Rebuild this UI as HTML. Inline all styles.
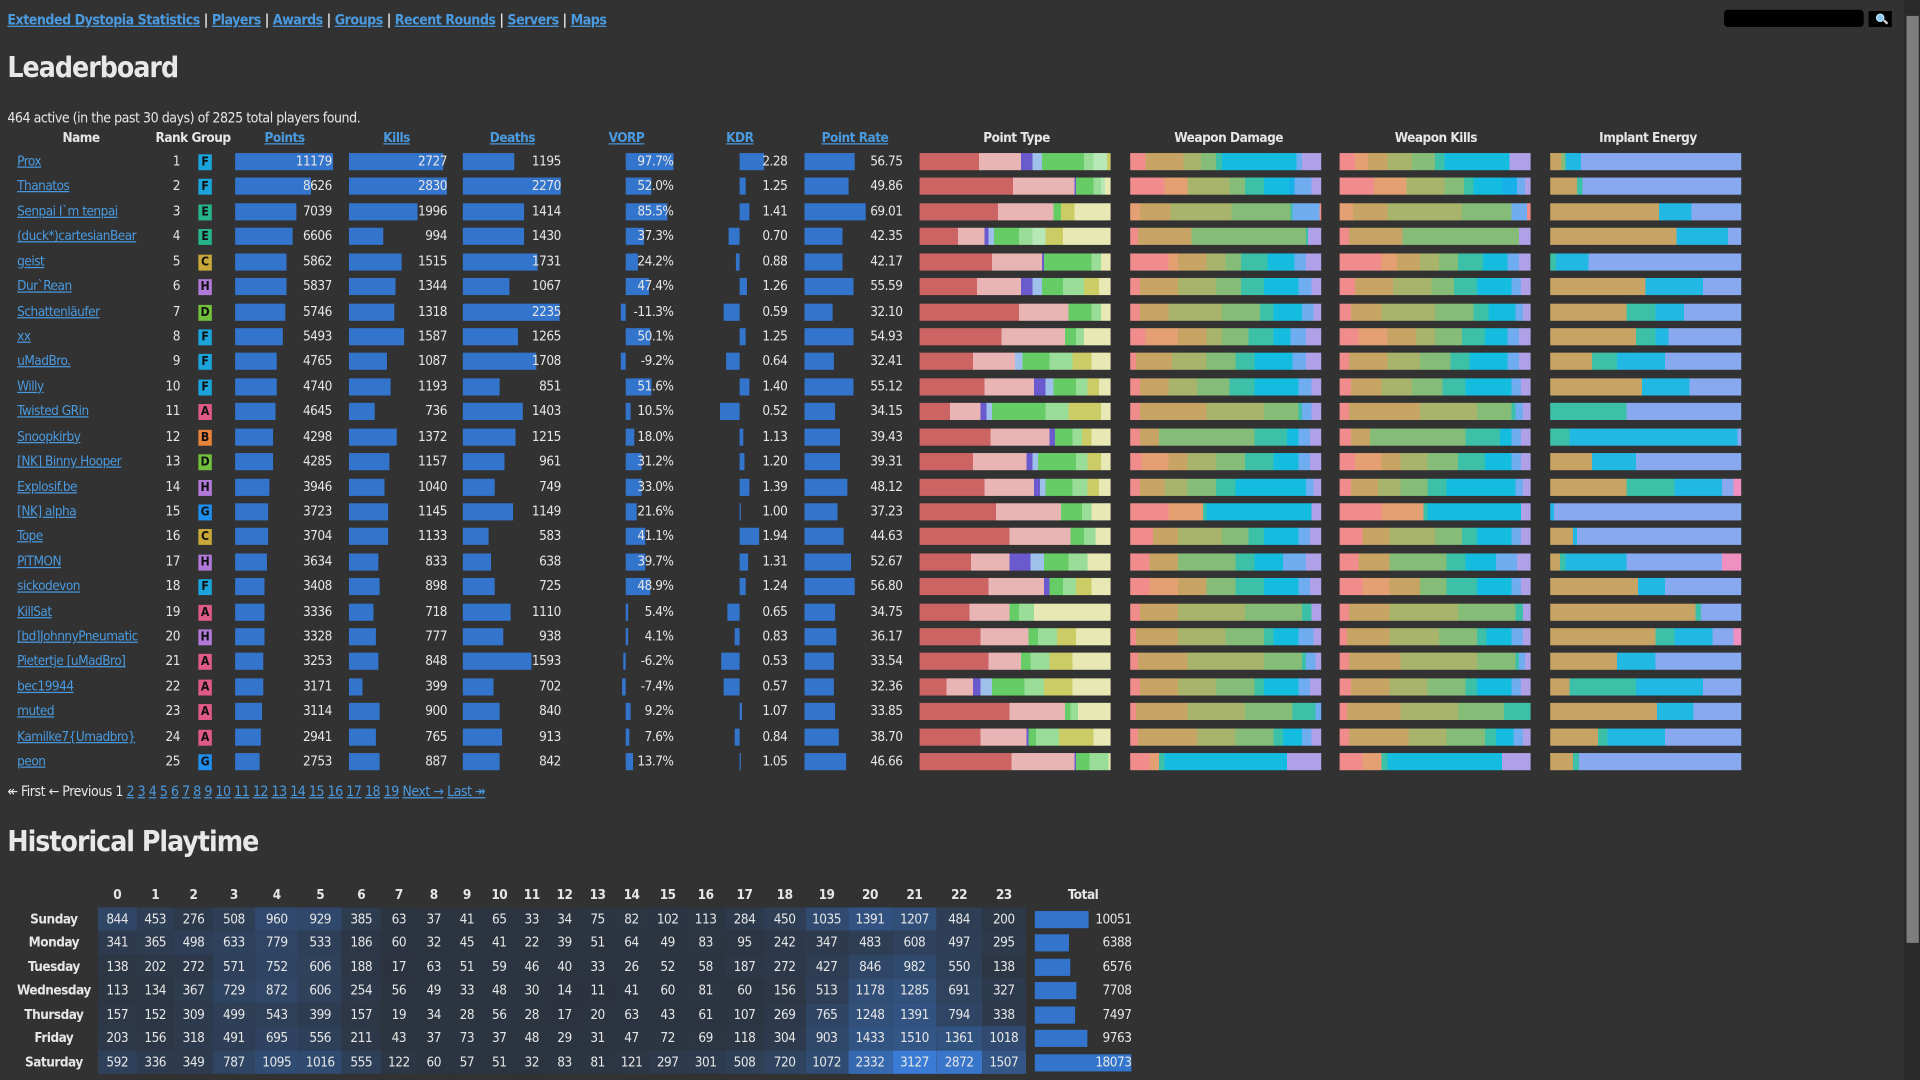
<!DOCTYPE html>
<html><head><meta charset="utf-8">
<style>
html,body{margin:0;padding:0;width:1920px;height:1080px;overflow:hidden;background:#323232}
#w{position:absolute;left:0;top:0;width:1568px;height:882px;transform:scale(1.22449);transform-origin:0 0;font-family:"DejaVu Sans Condensed","Liberation Sans Narrow","Liberation Sans",sans-serif;font-size:11px;color:#e6e6e6;letter-spacing:-0.4px;
--a:#cd6464;--b:#e8b4b4;--c:#6a5acd;--d:#9fc0ea;--e:#66cc66;--f:#99dd99;--y:#cccc66;--p:#e8e8b4;
--w1:#f08c8c;--w2:#e4a072;--w3:#c8a464;--w4:#a8b46c;--w5:#84bc78;--w6:#3cc0a8;--w7:#14bce0;--w8:#70acf0;--w9:#b0a0e8;--ic:#22b8e4;--ip:#88a8f0;--ik:#f090c0}
a{color:#4a9ae0;text-decoration:underline}
.abs{position:absolute}
.nav{left:6px;top:9px;font-weight:bold;font-size:11.5px;white-space:nowrap}
h1{position:absolute;margin:0;font-size:23px;font-weight:bold;letter-spacing:-0.8px;color:#e8e8e8}
.hd{position:absolute;top:106px;font-weight:bold;white-space:nowrap;line-height:14px}
.r{position:absolute;left:0;width:1568px;height:14px;line-height:14px}
.r>*{position:absolute;top:0;font-style:normal;white-space:nowrap}
.n{left:14px}
.k{left:117px;width:30px;text-align:right}
.g{left:162px;width:11px;height:13px;top:1px!important;color:#111;font-weight:bold;text-align:center;line-height:13px;font-size:10px;letter-spacing:0}
.F{background:#1ba4dc}.E{background:#27b48c}.C{background:#c9a83a}.H{background:#b27ad8}.D{background:#72c03c}.A{background:#e05a88}.B{background:#e8833a}.G{background:#1e8ef0}
.b{height:14px;background:#3374cc}
.t{text-align:right}
.p{left:200px;width:71px}.kl{left:300px;width:65px}.dd{left:400px;width:58px}.v{left:505px;width:45px}.kd{left:605px;width:38px}.pr{left:680px;width:57px}
.s{height:14px;width:156px}
.s1{left:751px}.s2{left:923px}.s3{left:1094px}.s4{left:1266px}
table{position:absolute;left:8px;top:721px;border-collapse:collapse;table-layout:fixed;font-size:11px}
td,th{padding:0;text-align:center;height:19.5px;line-height:19.5px;white-space:nowrap;overflow:hidden}
th{font-weight:bold}
td.h{background:linear-gradient(rgba(58,123,213,calc(var(--v) / 3127)),rgba(58,123,213,calc(var(--v) / 3127))),#2c333e}
td.tot{text-align:right;position:relative}
td.tot i{position:absolute;left:0;top:3px;height:14px;background:#3374cc}
td.tot span{position:relative}
</style></head><body>
<div id="w">
<div class="abs nav"><a>Extended Dystopia Statistics</a> | <a>Players</a> | <a>Awards</a> | <a>Groups</a> | <a>Recent Rounds</a> | <a>Servers</a> | <a>Maps</a></div>
<div class="abs" style="left:1408px;top:8px;width:114px;height:14px;background:#000;border-radius:3px"></div>
<div class="abs" style="left:1526px;top:9px;width:19px;height:13px;background:#000"><div class="abs" style="left:6px;top:2px;width:5px;height:5px;border:1.5px solid #bfe4ff;border-radius:50%;background:#8cc8f0"></div><div class="abs" style="left:12px;top:8px;width:4px;height:2px;background:#d0d0d0;transform:rotate(45deg)"></div></div>
<div class="abs" style="left:1555px;top:0;width:13px;height:882px;background:#2a2a2a"></div>
<div class="abs" style="left:1557px;top:13px;width:10px;height:757px;background:#7e7e7e"></div>
<h1 style="left:6px;top:43px">Leaderboard</h1>
<div class="abs" style="left:6px;top:89px;font-size:11.5px">464 active (in the past 30 days) of 2825 total players found.</div>

<div class="hd" style="left:51px">Name</div>
<div class="hd" style="left:127px">Rank Group</div>
<div class="hd" style="left:216px"><a>Points</a></div>
<div class="hd" style="left:313px"><a>Kills</a></div>
<div class="hd" style="left:400px"><a>Deaths</a></div>
<div class="hd" style="left:497px"><a>VORP</a></div>
<div class="hd" style="left:593px"><a>KDR</a></div>
<div class="hd" style="left:671px"><a>Point Rate</a></div>
<div class="hd" style="left:803px">Point Type</div>
<div class="hd" style="left:959px">Weapon Damage</div>
<div class="hd" style="left:1139px">Weapon Kills</div>
<div class="hd" style="left:1306px">Implant Energy</div>

<div class="r" style="top:125px"><a class="n">Prox</a><i class="k">1</i><i class="g F">F</i><i class="b" style="left:192px;width:80px"></i><i class="t p">11179</i><i class="b" style="left:285px;width:77.1px"></i><i class="t kl">2727</i><i class="b" style="left:378px;width:42.1px"></i><i class="t dd">1195</i><i class="b" style="left:511px;width:39.1px"></i><i class="t v">97.7%</i><i class="b" style="left:604px;width:19.8px"></i><i class="t kd">2.28</i><i class="b" style="left:657px;width:41.1px"></i><i class="t pr">56.75</i>
<i class="s s1" style="background:linear-gradient(90deg,var(--a) 0 31%,var(--b) 0 53%,var(--c) 0 59%,var(--d) 0 64%,var(--e) 0 86%,var(--f) 0 91%,#b8e8b8 0 98%,var(--y) 0)"></i>
<i class="s s2" style="background:linear-gradient(90deg,var(--w1) 0 8%,var(--w3) 0 28%,var(--w4) 0 37%,var(--w5) 0 45%,var(--w6) 0 48%,var(--w7) 0 87%,var(--w8) 0 90%,var(--w9) 0)"></i>
<i class="s s3" style="background:linear-gradient(90deg,var(--w1) 0 8%,var(--w2) 0 15%,var(--w3) 0 25%,var(--w4) 0 38%,var(--w5) 0 50%,var(--w6) 0 55%,var(--w7) 0 89%,var(--w9) 0)"></i>
<i class="s s4" style="background:linear-gradient(90deg,var(--w3) 0 6%,var(--w5) 0 8%,var(--ic) 0 16%,var(--ip) 0)"></i></div>

<div class="r" style="top:145.4px"><a class="n">Thanatos</a><i class="k">2</i><i class="g F">F</i><i class="b" style="left:192px;width:61.7px"></i><i class="t p">8626</i><i class="b" style="left:285px;width:80px"></i><i class="t kl">2830</i><i class="b" style="left:378px;width:80px"></i><i class="t dd">2270</i><i class="b" style="left:511px;width:20.8px"></i><i class="t v">52.0%</i><i class="b" style="left:604px;width:5.4px"></i><i class="t kd">1.25</i><i class="b" style="left:657px;width:36.1px"></i><i class="t pr">49.86</i>
<i class="s s1" style="background:linear-gradient(90deg,var(--a) 0 49%,var(--b) 0 81%,var(--c) 0 82%,var(--e) 0 91%,var(--f) 0 95%,#b8e8b8 0 97%,var(--p) 0)"></i>
<i class="s s2" style="background:linear-gradient(90deg,var(--w1) 0 18%,var(--w2) 0 30%,var(--w4) 0 52%,var(--w5) 0 60%,var(--w6) 0 70%,var(--w7) 0 83%,#18b0e8 0 86%,var(--w8) 0 95%,var(--w9) 0)"></i>
<i class="s s3" style="background:linear-gradient(90deg,var(--w1) 0 18%,var(--w2) 0 35%,var(--w4) 0 55%,var(--w5) 0 65%,var(--w6) 0 70%,var(--w7) 0 85%,#18b0e8 0 93%,var(--w8) 0 97%,var(--w9) 0)"></i>
<i class="s s4" style="background:linear-gradient(90deg,var(--w3) 0 14%,var(--w6) 0 17%,var(--ip) 0)"></i></div>

<div class="r" style="top:165.8px"><a class="n">Senpai I`m tenpai</a><i class="k">3</i><i class="g E">E</i><i class="b" style="left:192px;width:50.4px"></i><i class="t p">7039</i><i class="b" style="left:285px;width:56.4px"></i><i class="t kl">1996</i><i class="b" style="left:378px;width:49.8px"></i><i class="t dd">1414</i><i class="b" style="left:511px;width:34.2px"></i><i class="t v">85.5%</i><i class="b" style="left:604px;width:8.2px"></i><i class="t kd">1.41</i><i class="b" style="left:657px;width:50px"></i><i class="t pr">69.01</i>
<i class="s s1" style="background:linear-gradient(90deg,var(--a) 0 41%,var(--b) 0 70%,var(--e) 0 74%,var(--y) 0 81%,var(--p) 0)"></i>
<i class="s s2" style="background:linear-gradient(90deg,var(--w2) 0 5%,var(--w3) 0 21%,var(--w4) 0 53%,var(--w5) 0 84%,var(--w6) 0 85%,var(--w8) 0 99%,var(--w1) 0)"></i>
<i class="s s3" style="background:linear-gradient(90deg,var(--w2) 0 7%,var(--w3) 0 25%,var(--w4) 0 64%,var(--w5) 0 90%,var(--w8) 0 98%,var(--w1) 0)"></i>
<i class="s s4" style="background:linear-gradient(90deg,var(--w3) 0 57%,var(--ic) 0 74%,var(--ip) 0)"></i></div>

<div class="r" style="top:186.3px"><a class="n">(duck*)cartesianBear</a><i class="k">4</i><i class="g E">E</i><i class="b" style="left:192px;width:47.3px"></i><i class="t p">6606</i><i class="b" style="left:285px;width:28.1px"></i><i class="t kl">994</i><i class="b" style="left:378px;width:50.4px"></i><i class="t dd">1430</i><i class="b" style="left:511px;width:14.9px"></i><i class="t v">37.3%</i><i class="b" style="left:595.4px;width:8.6px"></i><i class="t kd">0.70</i><i class="b" style="left:657px;width:30.7px"></i><i class="t pr">42.35</i>
<i class="s s1" style="background:linear-gradient(90deg,var(--a) 0 20%,var(--b) 0 34%,var(--c) 0 36%,var(--d) 0 39%,var(--e) 0 52%,var(--f) 0 59%,#b8e8b8 0 66%,var(--y) 0 75%,var(--p) 0)"></i>
<i class="s s2" style="background:linear-gradient(90deg,var(--w1) 0 4%,var(--w3) 0 32%,var(--w5) 0 92%,var(--w6) 0 93%,var(--w9) 0)"></i>
<i class="s s3" style="background:linear-gradient(90deg,var(--w1) 0 5%,var(--w3) 0 33%,var(--w5) 0 94%,var(--w9) 0)"></i>
<i class="s s4" style="background:linear-gradient(90deg,var(--w3) 0 66%,var(--ic) 0 93%,var(--ip) 0)"></i></div>

<div class="r" style="top:206.7px"><a class="n">geist</a><i class="k">5</i><i class="g C">C</i><i class="b" style="left:192px;width:41.9px"></i><i class="t p">5862</i><i class="b" style="left:285px;width:42.8px"></i><i class="t kl">1515</i><i class="b" style="left:378px;width:61px"></i><i class="t dd">1731</i><i class="b" style="left:511px;width:9.7px"></i><i class="t v">24.2%</i><i class="b" style="left:600.9px;width:3.1px"></i><i class="t kd">0.88</i><i class="b" style="left:657px;width:30.6px"></i><i class="t pr">42.17</i>
<i class="s s1" style="background:linear-gradient(90deg,var(--a) 0 38%,var(--b) 0 64%,var(--c) 0 65%,var(--e) 0 90%,var(--f) 0 95%,var(--p) 0)"></i>
<i class="s s2" style="background:linear-gradient(90deg,var(--w1) 0 20%,var(--w2) 0 25%,var(--w3) 0 40%,var(--w4) 0 50%,var(--w5) 0 58%,var(--w6) 0 72%,var(--w7) 0 86%,var(--w8) 0 92%,var(--w9) 0)"></i>
<i class="s s3" style="background:linear-gradient(90deg,var(--w1) 0 22%,var(--w2) 0 30%,var(--w3) 0 42%,var(--w4) 0 52%,var(--w5) 0 62%,var(--w6) 0 75%,var(--w7) 0 88%,var(--w8) 0 94%,var(--w9) 0)"></i>
<i class="s s4" style="background:linear-gradient(90deg,var(--w6) 0 3%,var(--ic) 0 20%,var(--ip) 0)"></i></div>

<div class="r" style="top:227.1px"><a class="n">Dur`Rean</a><i class="k">6</i><i class="g H">H</i><i class="b" style="left:192px;width:41.8px"></i><i class="t p">5837</i><i class="b" style="left:285px;width:38px"></i><i class="t kl">1344</i><i class="b" style="left:378px;width:37.6px"></i><i class="t dd">1067</i><i class="b" style="left:511px;width:19px"></i><i class="t v">47.4%</i><i class="b" style="left:604px;width:5.5px"></i><i class="t kd">1.26</i><i class="b" style="left:657px;width:40.3px"></i><i class="t pr">55.59</i>
<i class="s s1" style="background:linear-gradient(90deg,var(--a) 0 30%,var(--b) 0 53%,var(--c) 0 59%,var(--d) 0 64%,var(--e) 0 75%,var(--f) 0 86%,var(--y) 0 94%,var(--p) 0)"></i>
<i class="s s2" style="background:linear-gradient(90deg,var(--w1) 0 5%,var(--w3) 0 25%,var(--w4) 0 45%,var(--w5) 0 58%,var(--w6) 0 70%,var(--w7) 0 88%,var(--w8) 0 95%,var(--w9) 0)"></i>
<i class="s s3" style="background:linear-gradient(90deg,var(--w1) 0 8%,var(--w3) 0 28%,var(--w4) 0 48%,var(--w5) 0 60%,var(--w6) 0 72%,var(--w7) 0 90%,var(--w8) 0 95%,var(--w9) 0)"></i>
<i class="s s4" style="background:linear-gradient(90deg,var(--w3) 0 50%,var(--ic) 0 80%,var(--ip) 0)"></i></div>

<div class="r" style="top:247.5px"><a class="n">Schattenläufer</a><i class="k">7</i><i class="g D">D</i><i class="b" style="left:192px;width:41.1px"></i><i class="t p">5746</i><i class="b" style="left:285px;width:37.3px"></i><i class="t kl">1318</i><i class="b" style="left:378px;width:78.8px"></i><i class="t dd">2235</i><i class="b" style="left:506.5px;width:4.5px"></i><i class="t v">-11.3%</i><i class="b" style="left:591.3px;width:12.7px"></i><i class="t kd">0.59</i><i class="b" style="left:657px;width:23.3px"></i><i class="t pr">32.10</i>
<i class="s s1" style="background:linear-gradient(90deg,var(--a) 0 52%,var(--b) 0 78%,var(--e) 0 90%,var(--f) 0 95%,var(--p) 0)"></i>
<i class="s s2" style="background:linear-gradient(90deg,var(--w1) 0 5%,var(--w3) 0 20%,var(--w4) 0 48%,var(--w5) 0 68%,var(--w6) 0 75%,var(--w7) 0 90%,var(--w8) 0 96%,var(--w9) 0)"></i>
<i class="s s3" style="background:linear-gradient(90deg,var(--w1) 0 6%,var(--w3) 0 22%,var(--w4) 0 50%,var(--w5) 0 70%,var(--w6) 0 78%,var(--w7) 0 92%,var(--w8) 0 96%,var(--w9) 0)"></i>
<i class="s s4" style="background:linear-gradient(90deg,var(--w3) 0 40%,var(--w6) 0 55%,var(--ic) 0 70%,var(--ip) 0)"></i></div>

<div class="r" style="top:267.9px"><a class="n">xx</a><i class="k">8</i><i class="g F">F</i><i class="b" style="left:192px;width:39.3px"></i><i class="t p">5493</i><i class="b" style="left:285px;width:44.9px"></i><i class="t kl">1587</i><i class="b" style="left:378px;width:44.6px"></i><i class="t dd">1265</i><i class="b" style="left:511px;width:20px"></i><i class="t v">50.1%</i><i class="b" style="left:604px;width:5.4px"></i><i class="t kd">1.25</i><i class="b" style="left:657px;width:39.8px"></i><i class="t pr">54.93</i>
<i class="s s1" style="background:linear-gradient(90deg,var(--a) 0 43%,var(--b) 0 76%,var(--e) 0 82%,var(--f) 0 86%,var(--p) 0)"></i>
<i class="s s2" style="background:linear-gradient(90deg,var(--w1) 0 8%,var(--w2) 0 25%,var(--w3) 0 40%,var(--w4) 0 48%,var(--w5) 0 62%,var(--w6) 0 75%,var(--w7) 0 84%,var(--w8) 0 92%,var(--w9) 0)"></i>
<i class="s s3" style="background:linear-gradient(90deg,var(--w1) 0 10%,var(--w2) 0 25%,var(--w3) 0 40%,var(--w4) 0 50%,var(--w5) 0 64%,var(--w6) 0 76%,var(--w7) 0 88%,var(--w8) 0 94%,var(--w9) 0)"></i>
<i class="s s4" style="background:linear-gradient(90deg,var(--w3) 0 45%,var(--w6) 0 55%,var(--ic) 0 62%,var(--ip) 0)"></i></div>

<div class="r" style="top:288.4px"><a class="n">uMadBro.</a><i class="k">9</i><i class="g F">F</i><i class="b" style="left:192px;width:34.1px"></i><i class="t p">4765</i><i class="b" style="left:285px;width:30.7px"></i><i class="t kl">1087</i><i class="b" style="left:378px;width:60.2px"></i><i class="t dd">1708</i><i class="b" style="left:507.3px;width:3.7px"></i><i class="t v">-9.2%</i><i class="b" style="left:593.3px;width:10.7px"></i><i class="t kd">0.64</i><i class="b" style="left:657px;width:23.5px"></i><i class="t pr">32.41</i>
<i class="s s1" style="background:linear-gradient(90deg,var(--a) 0 28%,var(--b) 0 50%,var(--d) 0 54%,var(--e) 0 68%,var(--f) 0 80%,var(--y) 0 90%,var(--p) 0)"></i>
<i class="s s2" style="background:linear-gradient(90deg,var(--w1) 0 3%,var(--w3) 0 22%,var(--w4) 0 40%,var(--w5) 0 55%,var(--w6) 0 65%,var(--w7) 0 85%,var(--w8) 0 92%,var(--w9) 0)"></i>
<i class="s s3" style="background:linear-gradient(90deg,var(--w1) 0 5%,var(--w3) 0 25%,var(--w4) 0 42%,var(--w5) 0 58%,var(--w6) 0 68%,var(--w7) 0 88%,var(--w8) 0 94%,var(--w9) 0)"></i>
<i class="s s4" style="background:linear-gradient(90deg,var(--w3) 0 22%,var(--w6) 0 35%,var(--ic) 0 60%,var(--ip) 0)"></i></div>

<div class="r" style="top:308.8px"><a class="n">Willy</a><i class="k">10</i><i class="g F">F</i><i class="b" style="left:192px;width:33.9px"></i><i class="t p">4740</i><i class="b" style="left:285px;width:33.7px"></i><i class="t kl">1193</i><i class="b" style="left:378px;width:30px"></i><i class="t dd">851</i><i class="b" style="left:511px;width:20.6px"></i><i class="t v">51.6%</i><i class="b" style="left:604px;width:8.1px"></i><i class="t kd">1.40</i><i class="b" style="left:657px;width:40px"></i><i class="t pr">55.12</i>
<i class="s s1" style="background:linear-gradient(90deg,var(--a) 0 34%,var(--b) 0 60%,var(--c) 0 66%,var(--d) 0 70%,var(--e) 0 82%,var(--f) 0 88%,var(--y) 0 94%,var(--p) 0)"></i>
<i class="s s2" style="background:linear-gradient(90deg,var(--w1) 0 5%,var(--w3) 0 20%,var(--w4) 0 35%,var(--w5) 0 52%,var(--w6) 0 65%,var(--w7) 0 88%,var(--w8) 0 95%,var(--w9) 0)"></i>
<i class="s s3" style="background:linear-gradient(90deg,var(--w1) 0 6%,var(--w3) 0 22%,var(--w4) 0 38%,var(--w5) 0 54%,var(--w6) 0 66%,var(--w7) 0 90%,var(--w8) 0 95%,var(--w9) 0)"></i>
<i class="s s4" style="background:linear-gradient(90deg,var(--w3) 0 48%,var(--ic) 0 73%,var(--ip) 0)"></i></div>

<div class="r" style="top:329.2px"><a class="n">Twisted GRin</a><i class="k">11</i><i class="g A">A</i><i class="b" style="left:192px;width:33.2px"></i><i class="t p">4645</i><i class="b" style="left:285px;width:20.8px"></i><i class="t kl">736</i><i class="b" style="left:378px;width:49.4px"></i><i class="t dd">1403</i><i class="b" style="left:511px;width:4.2px"></i><i class="t v">10.5%</i><i class="b" style="left:588.3px;width:15.7px"></i><i class="t kd">0.52</i><i class="b" style="left:657px;width:24.8px"></i><i class="t pr">34.15</i>
<i class="s s1" style="background:linear-gradient(90deg,var(--a) 0 16%,var(--b) 0 32%,var(--c) 0 35%,var(--d) 0 38%,var(--e) 0 66%,var(--f) 0 78%,var(--y) 0 95%,var(--p) 0)"></i>
<i class="s s2" style="background:linear-gradient(90deg,var(--w1) 0 5%,var(--w3) 0 40%,var(--w4) 0 70%,var(--w5) 0 88%,var(--w6) 0 90%,var(--w8) 0 95%,var(--w9) 0)"></i>
<i class="s s3" style="background:linear-gradient(90deg,var(--w1) 0 5%,var(--w3) 0 42%,var(--w4) 0 72%,var(--w5) 0 90%,var(--w6) 0 92%,var(--w8) 0 96%,var(--w9) 0)"></i>
<i class="s s4" style="background:linear-gradient(90deg,var(--w6) 0 40%,var(--ip) 0)"></i></div>

<div class="r" style="top:349.6px"><a class="n">Snoopkirby</a><i class="k">12</i><i class="g B">B</i><i class="b" style="left:192px;width:30.8px"></i><i class="t p">4298</i><i class="b" style="left:285px;width:38.8px"></i><i class="t kl">1372</i><i class="b" style="left:378px;width:42.8px"></i><i class="t dd">1215</i><i class="b" style="left:511px;width:7.2px"></i><i class="t v">18.0%</i><i class="b" style="left:604px;width:2.9px"></i><i class="t kd">1.13</i><i class="b" style="left:657px;width:28.6px"></i><i class="t pr">39.43</i>
<i class="s s1" style="background:linear-gradient(90deg,var(--a) 0 37%,var(--b) 0 68%,var(--c) 0 71%,var(--e) 0 80%,var(--f) 0 85%,var(--y) 0 90%,var(--p) 0)"></i>
<i class="s s2" style="background:linear-gradient(90deg,var(--w1) 0 5%,var(--w3) 0 15%,var(--w5) 0 65%,var(--w6) 0 82%,var(--w7) 0 88%,var(--w8) 0 94%,var(--w9) 0)"></i>
<i class="s s3" style="background:linear-gradient(90deg,var(--w1) 0 6%,var(--w3) 0 16%,var(--w5) 0 66%,var(--w6) 0 84%,var(--w7) 0 90%,var(--w8) 0 95%,var(--w9) 0)"></i>
<i class="s s4" style="background:linear-gradient(90deg,var(--w6) 0 10%,var(--ic) 0 98%,var(--ip) 0)"></i></div>

<div class="r" style="top:370px"><a class="n">[NK] Binny Hooper</a><i class="k">13</i><i class="g D">D</i><i class="b" style="left:192px;width:30.7px"></i><i class="t p">4285</i><i class="b" style="left:285px;width:32.7px"></i><i class="t kl">1157</i><i class="b" style="left:378px;width:33.9px"></i><i class="t dd">961</i><i class="b" style="left:511px;width:12.5px"></i><i class="t v">31.2%</i><i class="b" style="left:604px;width:4.4px"></i><i class="t kd">1.20</i><i class="b" style="left:657px;width:28.5px"></i><i class="t pr">39.31</i>
<i class="s s1" style="background:linear-gradient(90deg,var(--a) 0 28%,var(--b) 0 56%,var(--c) 0 59%,var(--d) 0 62%,var(--e) 0 82%,var(--f) 0 88%,var(--y) 0 95%,var(--p) 0)"></i>
<i class="s s2" style="background:linear-gradient(90deg,var(--w1) 0 6%,var(--w2) 0 20%,var(--w3) 0 30%,var(--w4) 0 45%,var(--w5) 0 60%,var(--w6) 0 75%,var(--w7) 0 88%,var(--w8) 0 94%,var(--w9) 0)"></i>
<i class="s s3" style="background:linear-gradient(90deg,var(--w1) 0 8%,var(--w2) 0 22%,var(--w3) 0 32%,var(--w4) 0 46%,var(--w5) 0 62%,var(--w6) 0 76%,var(--w7) 0 90%,var(--w8) 0 95%,var(--w9) 0)"></i>
<i class="s s4" style="background:linear-gradient(90deg,var(--w3) 0 22%,var(--ic) 0 45%,var(--ip) 0)"></i></div>

<div class="r" style="top:390.5px"><a class="n">Explosif.be</a><i class="k">14</i><i class="g H">H</i><i class="b" style="left:192px;width:28.2px"></i><i class="t p">3946</i><i class="b" style="left:285px;width:29.4px"></i><i class="t kl">1040</i><i class="b" style="left:378px;width:26.4px"></i><i class="t dd">749</i><i class="b" style="left:511px;width:13.2px"></i><i class="t v">33.0%</i><i class="b" style="left:604px;width:7.9px"></i><i class="t kd">1.39</i><i class="b" style="left:657px;width:34.9px"></i><i class="t pr">48.12</i>
<i class="s s1" style="background:linear-gradient(90deg,var(--a) 0 34%,var(--b) 0 60%,var(--c) 0 63%,var(--d) 0 66%,var(--e) 0 80%,var(--f) 0 88%,var(--y) 0 94%,var(--p) 0)"></i>
<i class="s s2" style="background:linear-gradient(90deg,var(--w1) 0 5%,var(--w3) 0 18%,var(--w4) 0 30%,var(--w5) 0 45%,var(--w6) 0 55%,var(--w7) 0 92%,var(--w8) 0 96%,var(--w9) 0)"></i>
<i class="s s3" style="background:linear-gradient(90deg,var(--w1) 0 6%,var(--w3) 0 20%,var(--w4) 0 32%,var(--w5) 0 46%,var(--w6) 0 56%,var(--w7) 0 92%,var(--w8) 0 96%,var(--w9) 0)"></i>
<i class="s s4" style="background:linear-gradient(90deg,var(--w3) 0 40%,var(--w6) 0 65%,var(--ic) 0 90%,var(--ip) 0 96%,var(--ik) 0)"></i></div>

<div class="r" style="top:410.9px"><a class="n">[NK] alpha</a><i class="k">15</i><i class="g G">G</i><i class="b" style="left:192px;width:26.6px"></i><i class="t p">3723</i><i class="b" style="left:285px;width:32.4px"></i><i class="t kl">1145</i><i class="b" style="left:378px;width:40.5px"></i><i class="t dd">1149</i><i class="b" style="left:511px;width:8.6px"></i><i class="t v">21.6%</i><i class="b" style="left:604px;width:0.6px"></i><i class="t kd">1.00</i><i class="b" style="left:657px;width:27px"></i><i class="t pr">37.23</i>
<i class="s s1" style="background:linear-gradient(90deg,var(--a) 0 40%,var(--b) 0 74%,var(--e) 0 85%,var(--f) 0 90%,var(--p) 0)"></i>
<i class="s s2" style="background:linear-gradient(90deg,var(--w1) 0 20%,var(--w2) 0 38%,var(--w6) 0 40%,var(--w7) 0 95%,var(--w9) 0)"></i>
<i class="s s3" style="background:linear-gradient(90deg,var(--w1) 0 22%,var(--w2) 0 44%,var(--w6) 0 46%,var(--w7) 0 95%,var(--w9) 0)"></i>
<i class="s s4" style="background:linear-gradient(90deg,var(--ic) 0 2%,var(--ip) 0)"></i></div>

<div class="r" style="top:431.3px"><a class="n">Tope</a><i class="k">16</i><i class="g C">C</i><i class="b" style="left:192px;width:26.5px"></i><i class="t p">3704</i><i class="b" style="left:285px;width:32px"></i><i class="t kl">1133</i><i class="b" style="left:378px;width:20.5px"></i><i class="t dd">583</i><i class="b" style="left:511px;width:16.4px"></i><i class="t v">41.1%</i><i class="b" style="left:604px;width:15.9px"></i><i class="t kd">1.94</i><i class="b" style="left:657px;width:32.4px"></i><i class="t pr">44.63</i>
<i class="s s1" style="background:linear-gradient(90deg,var(--a) 0 47%,var(--b) 0 79%,var(--e) 0 86%,var(--f) 0 92%,var(--p) 0)"></i>
<i class="s s2" style="background:linear-gradient(90deg,var(--w1) 0 12%,var(--w3) 0 25%,var(--w4) 0 48%,var(--w5) 0 62%,var(--w6) 0 70%,var(--w7) 0 88%,var(--w8) 0 94%,var(--w9) 0)"></i>
<i class="s s3" style="background:linear-gradient(90deg,var(--w1) 0 12%,var(--w3) 0 26%,var(--w4) 0 50%,var(--w5) 0 64%,var(--w6) 0 72%,var(--w7) 0 90%,var(--w8) 0 95%,var(--w9) 0)"></i>
<i class="s s4" style="background:linear-gradient(90deg,var(--w3) 0 12%,var(--ic) 0 14%,var(--ip) 0)"></i></div>

<div class="r" style="top:451.7px"><a class="n">PiTMON</a><i class="k">17</i><i class="g H">H</i><i class="b" style="left:192px;width:26px"></i><i class="t p">3634</i><i class="b" style="left:285px;width:23.5px"></i><i class="t kl">833</i><i class="b" style="left:378px;width:22.5px"></i><i class="t dd">638</i><i class="b" style="left:511px;width:15.9px"></i><i class="t v">39.7%</i><i class="b" style="left:604px;width:6.5px"></i><i class="t kd">1.31</i><i class="b" style="left:657px;width:38.2px"></i><i class="t pr">52.67</i>
<i class="s s1" style="background:linear-gradient(90deg,var(--a) 0 27%,var(--b) 0 47%,var(--c) 0 58%,var(--d) 0 65%,var(--e) 0 78%,var(--f) 0 88%,var(--p) 0)"></i>
<i class="s s2" style="background:linear-gradient(90deg,var(--w1) 0 10%,var(--w3) 0 25%,var(--w5) 0 55%,var(--w6) 0 65%,var(--w7) 0 80%,var(--w8) 0 92%,var(--w9) 0)"></i>
<i class="s s3" style="background:linear-gradient(90deg,var(--w1) 0 10%,var(--w3) 0 26%,var(--w5) 0 56%,var(--w6) 0 66%,var(--w7) 0 82%,var(--w8) 0 93%,var(--w9) 0)"></i>
<i class="s s4" style="background:linear-gradient(90deg,var(--w3) 0 5%,var(--w6) 0 8%,var(--ic) 0 40%,var(--ip) 0 90%,var(--ik) 0)"></i></div>

<div class="r" style="top:472.1px"><a class="n">sickodevon</a><i class="k">18</i><i class="g F">F</i><i class="b" style="left:192px;width:24.4px"></i><i class="t p">3408</i><i class="b" style="left:285px;width:25.4px"></i><i class="t kl">898</i><i class="b" style="left:378px;width:25.5px"></i><i class="t dd">725</i><i class="b" style="left:511px;width:19.6px"></i><i class="t v">48.9%</i><i class="b" style="left:604px;width:5.2px"></i><i class="t kd">1.24</i><i class="b" style="left:657px;width:41.2px"></i><i class="t pr">56.80</i>
<i class="s s1" style="background:linear-gradient(90deg,var(--a) 0 36%,var(--b) 0 65%,var(--c) 0 68%,var(--e) 0 75%,var(--f) 0 82%,var(--y) 0 90%,var(--p) 0)"></i>
<i class="s s2" style="background:linear-gradient(90deg,var(--w1) 0 10%,var(--w2) 0 25%,var(--w3) 0 40%,var(--w5) 0 55%,var(--w6) 0 70%,var(--w7) 0 88%,var(--w8) 0 94%,var(--w9) 0)"></i>
<i class="s s3" style="background:linear-gradient(90deg,var(--w1) 0 12%,var(--w2) 0 26%,var(--w3) 0 42%,var(--w5) 0 56%,var(--w6) 0 72%,var(--w7) 0 90%,var(--w8) 0 95%,var(--w9) 0)"></i>
<i class="s s4" style="background:linear-gradient(90deg,var(--w3) 0 46%,var(--ic) 0 60%,var(--ip) 0)"></i></div>

<div class="r" style="top:492.6px"><a class="n">KillSat</a><i class="k">19</i><i class="g A">A</i><i class="b" style="left:192px;width:23.9px"></i><i class="t p">3336</i><i class="b" style="left:285px;width:20.3px"></i><i class="t kl">718</i><i class="b" style="left:378px;width:39.1px"></i><i class="t dd">1110</i><i class="b" style="left:511px;width:2.2px"></i><i class="t v">5.4%</i><i class="b" style="left:593.7px;width:10.3px"></i><i class="t kd">0.65</i><i class="b" style="left:657px;width:25.2px"></i><i class="t pr">34.75</i>
<i class="s s1" style="background:linear-gradient(90deg,var(--a) 0 26%,var(--b) 0 47%,var(--e) 0 52%,var(--f) 0 60%,var(--p) 0)"></i>
<i class="s s2" style="background:linear-gradient(90deg,var(--w1) 0 5%,var(--w3) 0 25%,var(--w4) 0 60%,var(--w5) 0 90%,var(--w6) 0 95%,var(--w9) 0)"></i>
<i class="s s3" style="background:linear-gradient(90deg,var(--w1) 0 5%,var(--w3) 0 26%,var(--w4) 0 62%,var(--w5) 0 92%,var(--w6) 0 96%,var(--w9) 0)"></i>
<i class="s s4" style="background:linear-gradient(90deg,var(--w3) 0 76%,var(--w6) 0 79%,var(--ip) 0)"></i></div>

<div class="r" style="top:513px"><a class="n">[bd]JohnnyPneumatic</a><i class="k">20</i><i class="g H">H</i><i class="b" style="left:192px;width:23.8px"></i><i class="t p">3328</i><i class="b" style="left:285px;width:22px"></i><i class="t kl">777</i><i class="b" style="left:378px;width:33.1px"></i><i class="t dd">938</i><i class="b" style="left:511px;width:1.6px"></i><i class="t v">4.1%</i><i class="b" style="left:599.5px;width:4.5px"></i><i class="t kd">0.83</i><i class="b" style="left:657px;width:26.2px"></i><i class="t pr">36.17</i>
<i class="s s1" style="background:linear-gradient(90deg,var(--a) 0 32%,var(--b) 0 57%,var(--e) 0 62%,var(--f) 0 72%,var(--y) 0 82%,var(--p) 0)"></i>
<i class="s s2" style="background:linear-gradient(90deg,var(--w1) 0 3%,var(--w3) 0 25%,var(--w4) 0 50%,var(--w5) 0 70%,var(--w6) 0 75%,var(--w7) 0 88%,var(--w8) 0 96%,var(--w9) 0)"></i>
<i class="s s3" style="background:linear-gradient(90deg,var(--w1) 0 4%,var(--w3) 0 26%,var(--w4) 0 52%,var(--w5) 0 72%,var(--w6) 0 77%,var(--w7) 0 90%,var(--w8) 0 96%,var(--w9) 0)"></i>
<i class="s s4" style="background:linear-gradient(90deg,var(--w3) 0 55%,var(--w6) 0 65%,var(--ic) 0 85%,var(--ip) 0 96%,var(--ik) 0)"></i></div>

<div class="r" style="top:533.4px"><a class="n">Pietertje [uMadBro]</a><i class="k">21</i><i class="g A">A</i><i class="b" style="left:192px;width:23.3px"></i><i class="t p">3253</i><i class="b" style="left:285px;width:24px"></i><i class="t kl">848</i><i class="b" style="left:378px;width:56.1px"></i><i class="t dd">1593</i><i class="b" style="left:508.5px;width:2.5px"></i><i class="t v">-6.2%</i><i class="b" style="left:588.8px;width:15.2px"></i><i class="t kd">0.53</i><i class="b" style="left:657px;width:24.3px"></i><i class="t pr">33.54</i>
<i class="s s1" style="background:linear-gradient(90deg,var(--a) 0 36%,var(--b) 0 53%,var(--e) 0 58%,var(--f) 0 68%,var(--y) 0 80%,var(--p) 0)"></i>
<i class="s s2" style="background:linear-gradient(90deg,var(--w1) 0 4%,var(--w3) 0 30%,var(--w4) 0 70%,var(--w5) 0 90%,var(--w6) 0 92%,var(--w8) 0 97%,var(--w9) 0)"></i>
<i class="s s3" style="background:linear-gradient(90deg,var(--w1) 0 5%,var(--w3) 0 32%,var(--w4) 0 72%,var(--w5) 0 92%,var(--w6) 0 94%,var(--w8) 0 97%,var(--w9) 0)"></i>
<i class="s s4" style="background:linear-gradient(90deg,var(--w3) 0 35%,var(--ic) 0 55%,var(--ip) 0)"></i></div>

<div class="r" style="top:553.8px"><a class="n">bec19944</a><i class="k">22</i><i class="g A">A</i><i class="b" style="left:192px;width:22.7px"></i><i class="t p">3171</i><i class="b" style="left:285px;width:11.3px"></i><i class="t kl">399</i><i class="b" style="left:378px;width:24.7px"></i><i class="t dd">702</i><i class="b" style="left:508px;width:3px"></i><i class="t v">-7.4%</i><i class="b" style="left:590.5px;width:13.5px"></i><i class="t kd">0.57</i><i class="b" style="left:657px;width:23.5px"></i><i class="t pr">32.36</i>
<i class="s s1" style="background:linear-gradient(90deg,var(--a) 0 14%,var(--b) 0 28%,var(--c) 0 32%,var(--d) 0 38%,var(--e) 0 55%,var(--f) 0 65%,var(--y) 0 80%,var(--p) 0)"></i>
<i class="s s2" style="background:linear-gradient(90deg,var(--w1) 0 5%,var(--w3) 0 25%,var(--w4) 0 45%,var(--w5) 0 65%,var(--w6) 0 70%,var(--w7) 0 88%,var(--w8) 0 94%,var(--w9) 0)"></i>
<i class="s s3" style="background:linear-gradient(90deg,var(--w1) 0 6%,var(--w3) 0 26%,var(--w4) 0 46%,var(--w5) 0 66%,var(--w6) 0 72%,var(--w7) 0 90%,var(--w8) 0 95%,var(--w9) 0)"></i>
<i class="s s4" style="background:linear-gradient(90deg,var(--w3) 0 10%,var(--w6) 0 45%,var(--ic) 0 80%,var(--ip) 0)"></i></div>

<div class="r" style="top:574.2px"><a class="n">muted</a><i class="k">23</i><i class="g A">A</i><i class="b" style="left:192px;width:22.3px"></i><i class="t p">3114</i><i class="b" style="left:285px;width:25.4px"></i><i class="t kl">900</i><i class="b" style="left:378px;width:29.6px"></i><i class="t dd">840</i><i class="b" style="left:511px;width:3.7px"></i><i class="t v">9.2%</i><i class="b" style="left:604px;width:1.6px"></i><i class="t kd">1.07</i><i class="b" style="left:657px;width:24.5px"></i><i class="t pr">33.85</i>
<i class="s s1" style="background:linear-gradient(90deg,var(--a) 0 47%,var(--b) 0 76%,var(--e) 0 79%,var(--f) 0 83%,var(--p) 0)"></i>
<i class="s s2" style="background:linear-gradient(90deg,var(--w1) 0 3%,var(--w3) 0 30%,var(--w4) 0 60%,var(--w5) 0 85%,var(--w6) 0 97%,var(--w8) 0)"></i>
<i class="s s3" style="background:linear-gradient(90deg,var(--w1) 0 4%,var(--w3) 0 32%,var(--w4) 0 62%,var(--w5) 0 86%,var(--w6) 0 100%)"></i>
<i class="s s4" style="background:linear-gradient(90deg,var(--w3) 0 56%,var(--ic) 0 75%,var(--ip) 0)"></i></div>

<div class="r" style="top:594.7px"><a class="n">Kamilke7{Umadbro}</a><i class="k">24</i><i class="g A">A</i><i class="b" style="left:192px;width:21px"></i><i class="t p">2941</i><i class="b" style="left:285px;width:21.6px"></i><i class="t kl">765</i><i class="b" style="left:378px;width:32.2px"></i><i class="t dd">913</i><i class="b" style="left:511px;width:3px"></i><i class="t v">7.6%</i><i class="b" style="left:599.8px;width:4.2px"></i><i class="t kd">0.84</i><i class="b" style="left:657px;width:28.1px"></i><i class="t pr">38.70</i>
<i class="s s1" style="background:linear-gradient(90deg,var(--a) 0 32%,var(--b) 0 56%,var(--c) 0 57%,var(--e) 0 61%,var(--f) 0 73%,var(--y) 0 91%,var(--p) 0)"></i>
<i class="s s2" style="background:linear-gradient(90deg,var(--w1) 0 4%,var(--w3) 0 35%,var(--w4) 0 55%,var(--w5) 0 75%,var(--w6) 0 80%,var(--w7) 0 90%,var(--w8) 0 95%,var(--w9) 0)"></i>
<i class="s s3" style="background:linear-gradient(90deg,var(--w1) 0 5%,var(--w3) 0 36%,var(--w4) 0 56%,var(--w5) 0 76%,var(--w6) 0 82%,var(--w7) 0 91%,var(--w8) 0 96%,var(--w9) 0)"></i>
<i class="s s4" style="background:linear-gradient(90deg,var(--w3) 0 25%,var(--w6) 0 30%,var(--ic) 0 60%,var(--ip) 0)"></i></div>

<div class="r" style="top:615.1px"><a class="n">peon</a><i class="k">25</i><i class="g G">G</i><i class="b" style="left:192px;width:19.7px"></i><i class="t p">2753</i><i class="b" style="left:285px;width:25.1px"></i><i class="t kl">887</i><i class="b" style="left:378px;width:29.7px"></i><i class="t dd">842</i><i class="b" style="left:511px;width:5.5px"></i><i class="t v">13.7%</i><i class="b" style="left:604px;width:1.2px"></i><i class="t kd">1.05</i><i class="b" style="left:657px;width:33.8px"></i><i class="t pr">46.66</i>
<i class="s s1" style="background:linear-gradient(90deg,var(--a) 0 48%,var(--b) 0 81%,var(--c) 0 82%,var(--e) 0 89%,var(--f) 0 99%,var(--p) 0)"></i>
<i class="s s2" style="background:linear-gradient(90deg,var(--w1) 0 10%,var(--w2) 0 15%,var(--w6) 0 18%,var(--w7) 0 82%,var(--w9) 0)"></i>
<i class="s s3" style="background:linear-gradient(90deg,var(--w1) 0 12%,var(--w2) 0 22%,var(--w6) 0 25%,var(--w7) 0 85%,var(--w9) 0)"></i>
<i class="s s4" style="background:linear-gradient(90deg,var(--w3) 0 12%,var(--w6) 0 15%,var(--ip) 0)"></i></div>

<div class="abs" style="left:6px;top:639px;font-size:11.5px;white-space:nowrap">↞ First ← Previous 1 <a>2</a> <a>3</a> <a>4</a> <a>5</a> <a>6</a> <a>7</a> <a>8</a> <a>9</a> <a>10</a> <a>11</a> <a>12</a> <a>13</a> <a>14</a> <a>15</a> <a>16</a> <a>17</a> <a>18</a> <a>19</a> <a>Next →</a> <a>Last ↠</a></div>

<h1 style="left:6px;top:675px">Historical Playtime</h1>

<table>
<colgroup><col style="width:72px"><col style="width:31.5px"><col style="width:30.5px"><col style="width:32px"><col style="width:34px"><col style="width:36px"><col style="width:35px"><col style="width:32px"><col style="width:29.5px"><col style="width:27.5px"><col style="width:26.5px"><col style="width:26.5px"><col style="width:26.5px"><col style="width:27px"><col style="width:27px"><col style="width:28.5px"><col style="width:30.5px"><col style="width:31.5px"><col style="width:32px"><col style="width:33.5px"><col style="width:35px"><col style="width:36px"><col style="width:36.5px"><col style="width:36.5px"><col style="width:36.5px"><col style="width:7px"><col style="width:79px"></colgroup>
<tr><th></th><th>0</th><th>1</th><th>2</th><th>3</th><th>4</th><th>5</th><th>6</th><th>7</th><th>8</th><th>9</th><th>10</th><th>11</th><th>12</th><th>13</th><th>14</th><th>15</th><th>16</th><th>17</th><th>18</th><th>19</th><th>20</th><th>21</th><th>22</th><th>23</th><th></th><th>Total</th></tr>
<tr><th>Sunday</th><td class="h" style="--v:844">844</td><td class="h" style="--v:453">453</td><td class="h" style="--v:276">276</td><td class="h" style="--v:508">508</td><td class="h" style="--v:960">960</td><td class="h" style="--v:929">929</td><td class="h" style="--v:385">385</td><td class="h" style="--v:63">63</td><td class="h" style="--v:37">37</td><td class="h" style="--v:41">41</td><td class="h" style="--v:65">65</td><td class="h" style="--v:33">33</td><td class="h" style="--v:34">34</td><td class="h" style="--v:75">75</td><td class="h" style="--v:82">82</td><td class="h" style="--v:102">102</td><td class="h" style="--v:113">113</td><td class="h" style="--v:284">284</td><td class="h" style="--v:450">450</td><td class="h" style="--v:1035">1035</td><td class="h" style="--v:1391">1391</td><td class="h" style="--v:1207">1207</td><td class="h" style="--v:484">484</td><td class="h" style="--v:200">200</td><td></td><td class="tot"><i style="width:43.9px"></i><span>10051</span></td></tr>
<tr><th>Monday</th><td class="h" style="--v:341">341</td><td class="h" style="--v:365">365</td><td class="h" style="--v:498">498</td><td class="h" style="--v:633">633</td><td class="h" style="--v:779">779</td><td class="h" style="--v:533">533</td><td class="h" style="--v:186">186</td><td class="h" style="--v:60">60</td><td class="h" style="--v:32">32</td><td class="h" style="--v:45">45</td><td class="h" style="--v:41">41</td><td class="h" style="--v:22">22</td><td class="h" style="--v:39">39</td><td class="h" style="--v:51">51</td><td class="h" style="--v:64">64</td><td class="h" style="--v:49">49</td><td class="h" style="--v:83">83</td><td class="h" style="--v:95">95</td><td class="h" style="--v:242">242</td><td class="h" style="--v:347">347</td><td class="h" style="--v:483">483</td><td class="h" style="--v:608">608</td><td class="h" style="--v:497">497</td><td class="h" style="--v:295">295</td><td></td><td class="tot"><i style="width:27.9px"></i><span>6388</span></td></tr>
<tr><th>Tuesday</th><td class="h" style="--v:138">138</td><td class="h" style="--v:202">202</td><td class="h" style="--v:272">272</td><td class="h" style="--v:571">571</td><td class="h" style="--v:752">752</td><td class="h" style="--v:606">606</td><td class="h" style="--v:188">188</td><td class="h" style="--v:17">17</td><td class="h" style="--v:63">63</td><td class="h" style="--v:51">51</td><td class="h" style="--v:59">59</td><td class="h" style="--v:46">46</td><td class="h" style="--v:40">40</td><td class="h" style="--v:33">33</td><td class="h" style="--v:26">26</td><td class="h" style="--v:52">52</td><td class="h" style="--v:58">58</td><td class="h" style="--v:187">187</td><td class="h" style="--v:272">272</td><td class="h" style="--v:427">427</td><td class="h" style="--v:846">846</td><td class="h" style="--v:982">982</td><td class="h" style="--v:550">550</td><td class="h" style="--v:138">138</td><td></td><td class="tot"><i style="width:28.7px"></i><span>6576</span></td></tr>
<tr><th>Wednesday</th><td class="h" style="--v:113">113</td><td class="h" style="--v:134">134</td><td class="h" style="--v:367">367</td><td class="h" style="--v:729">729</td><td class="h" style="--v:872">872</td><td class="h" style="--v:606">606</td><td class="h" style="--v:254">254</td><td class="h" style="--v:56">56</td><td class="h" style="--v:49">49</td><td class="h" style="--v:33">33</td><td class="h" style="--v:48">48</td><td class="h" style="--v:30">30</td><td class="h" style="--v:14">14</td><td class="h" style="--v:11">11</td><td class="h" style="--v:41">41</td><td class="h" style="--v:60">60</td><td class="h" style="--v:81">81</td><td class="h" style="--v:60">60</td><td class="h" style="--v:156">156</td><td class="h" style="--v:513">513</td><td class="h" style="--v:1178">1178</td><td class="h" style="--v:1285">1285</td><td class="h" style="--v:691">691</td><td class="h" style="--v:327">327</td><td></td><td class="tot"><i style="width:33.7px"></i><span>7708</span></td></tr>
<tr><th>Thursday</th><td class="h" style="--v:157">157</td><td class="h" style="--v:152">152</td><td class="h" style="--v:309">309</td><td class="h" style="--v:499">499</td><td class="h" style="--v:543">543</td><td class="h" style="--v:399">399</td><td class="h" style="--v:157">157</td><td class="h" style="--v:19">19</td><td class="h" style="--v:34">34</td><td class="h" style="--v:28">28</td><td class="h" style="--v:56">56</td><td class="h" style="--v:28">28</td><td class="h" style="--v:17">17</td><td class="h" style="--v:20">20</td><td class="h" style="--v:63">63</td><td class="h" style="--v:43">43</td><td class="h" style="--v:61">61</td><td class="h" style="--v:107">107</td><td class="h" style="--v:269">269</td><td class="h" style="--v:765">765</td><td class="h" style="--v:1248">1248</td><td class="h" style="--v:1391">1391</td><td class="h" style="--v:794">794</td><td class="h" style="--v:338">338</td><td></td><td class="tot"><i style="width:32.7px"></i><span>7497</span></td></tr>
<tr><th>Friday</th><td class="h" style="--v:203">203</td><td class="h" style="--v:156">156</td><td class="h" style="--v:318">318</td><td class="h" style="--v:491">491</td><td class="h" style="--v:695">695</td><td class="h" style="--v:556">556</td><td class="h" style="--v:211">211</td><td class="h" style="--v:43">43</td><td class="h" style="--v:37">37</td><td class="h" style="--v:73">73</td><td class="h" style="--v:37">37</td><td class="h" style="--v:48">48</td><td class="h" style="--v:29">29</td><td class="h" style="--v:31">31</td><td class="h" style="--v:47">47</td><td class="h" style="--v:72">72</td><td class="h" style="--v:69">69</td><td class="h" style="--v:118">118</td><td class="h" style="--v:304">304</td><td class="h" style="--v:903">903</td><td class="h" style="--v:1433">1433</td><td class="h" style="--v:1510">1510</td><td class="h" style="--v:1361">1361</td><td class="h" style="--v:1018">1018</td><td></td><td class="tot"><i style="width:42.7px"></i><span>9763</span></td></tr>
<tr><th>Saturday</th><td class="h" style="--v:592">592</td><td class="h" style="--v:336">336</td><td class="h" style="--v:349">349</td><td class="h" style="--v:787">787</td><td class="h" style="--v:1095">1095</td><td class="h" style="--v:1016">1016</td><td class="h" style="--v:555">555</td><td class="h" style="--v:122">122</td><td class="h" style="--v:60">60</td><td class="h" style="--v:57">57</td><td class="h" style="--v:51">51</td><td class="h" style="--v:32">32</td><td class="h" style="--v:83">83</td><td class="h" style="--v:81">81</td><td class="h" style="--v:121">121</td><td class="h" style="--v:297">297</td><td class="h" style="--v:301">301</td><td class="h" style="--v:508">508</td><td class="h" style="--v:720">720</td><td class="h" style="--v:1072">1072</td><td class="h" style="--v:2332">2332</td><td class="h" style="--v:3127">3127</td><td class="h" style="--v:2872">2872</td><td class="h" style="--v:1507">1507</td><td></td><td class="tot"><i style="width:79px"></i><span>18073</span></td></tr>
</table>
</div>
</body></html>
